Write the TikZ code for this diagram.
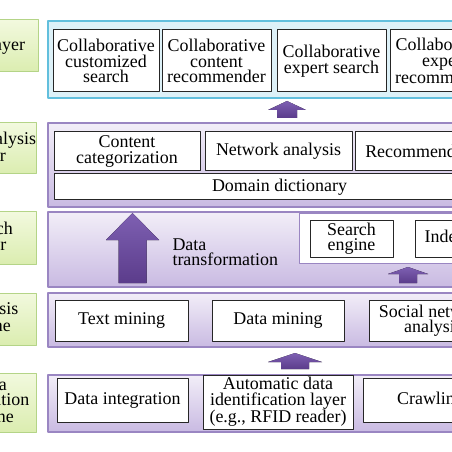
\documentclass[tikz,border=0pt]{standalone}
\usepackage{fontspec}
\setmainfont{Liberation Serif}
\definecolor{cyanFill}{HTML}{DDF1F8}
\definecolor{cyanLine}{HTML}{62BFDD}
\definecolor{lavTop}{HTML}{F2EEF8}
\definecolor{lavBot}{HTML}{C9BAE2}
\definecolor{lavLine}{HTML}{9A86C2}
\definecolor{grnTop}{HTML}{F2F9DE}
\definecolor{grnBot}{HTML}{DBEDB0}
\definecolor{grnLine}{HTML}{B4D487}
\definecolor{arrTop}{HTML}{7E60B2}
\definecolor{arrBot}{HTML}{5B3C8B}
\begin{document}
\begin{tikzpicture}[x=1bp, y=-1bp, font=\fontsize{18}{15.5}\selectfont, line join=round,
  spans/.style args={#1:#2:#3:#4}{minimum width={(#3-#1)*1bp}, minimum height={(#4-#2)*1bp},
    at={({(#1+#3)/2},{(#2+#4)/2})}},
  tagbox/.style={draw=grnLine, line width=1bp, top color=grnTop, bottom color=grnBot, inner sep=0pt, align=center},
  panel/.style={draw=lavLine, line width=1.2bp, top color=lavTop, bottom color=lavBot, inner sep=0pt},
  inbox/.style={draw=black!85, line width=1bp, fill=white, inner sep=0pt, align=center},
  blockarrow/.style={top color=arrTop, bottom color=arrBot, draw=none}]
  \useasboundingbox (0,0) rectangle (452,452);
  \clip (0,0) rectangle (452,452);
  % layer tags on the left
  \node[tagbox, spans=-113:20:38:72] (tagapp) {Application layer};
  \node[tagbox, spans=-60:123:36:174] (tagana) {Data analysis\\layer};
  \node[tagbox, spans=-59:212:36:264] (tagsrch) {Search\\layer};
  \node[tagbox, spans=-62:293:36:345] (tageng) {Analysis\\engine};
  \node[tagbox, spans=-56:373:36:432] (tagacq) {Data\\acquisition\\engine};
  % application layer
  \node[draw=cyanLine, line width=1.2bp, fill=cyanFill, inner sep=0pt, spans=48:21:470:98] (appl) {};
  \node[inbox, spans=53:30:159:92] (custsrch) {Collaborative\\customized\\search};
  \node[inbox, spans=162:30:271:92] (contrec) {Collaborative\\content\\recommender};
  \node[inbox, spans=277:30:386:92] (expsrch) {Collaborative\\expert search};
  \node[inbox, spans=390:30:499:92] (exprec) {Collaborative\\expert\\recommender};
  % analysis layer
  \node[panel, spans=48:123:470:207] (anal) {};
  \node[inbox, spans=54:132:200:171] (contcat) {Content\\categorization};
  \node[inbox, spans=205:132:352:171] (netana) {Network analysis};
  \node[inbox, spans=355:132:502:171] (recomm) {Recommendation};
  \node[inbox, spans=54:174:505:200] (domdict) {Domain dictionary};
  % search layer
  \node[panel, spans=48:212:470:287] (srch) {};
  \node[draw=lavLine, line width=0.6bp, fill=white, inner sep=0pt, spans=299:213.5:470:263] (srchbg) {};
  \node[inbox, spans=310:220:393:257] (srcheng) {Search\\engine};
  \node[inbox, spans=415:220:498:257] (idx) {Indexing};
  \node[anchor=west, align=left] (dtrans) at (169,252) {Data\\transformation};
  % analysis engine
  \node[panel, spans=48:293:470:347] (engn) {};
  \node[inbox, spans=55:300:188:341] (txtmin) {Text mining};
  \node[inbox, spans=212:300:344:341] (datmin) {Data mining};
  \node[inbox, spans=369:300:497:341] (socnet) {Social network\\analysis};
  % data acquisition engine
  \node[panel, spans=48:375:470:432] (acq) {};
  \node[inbox, spans=57:378:188:422] (datint) {Data integration};
  \node[inbox, spans=203:375:353:429] (autoid) {Automatic data\\identification layer\\(e.g., RFID reader)};
  \node[inbox, spans=363:378:498:422] (crawl) {Crawling};
  % block arrows: centre/tip/head base/bottom/head half width/shaft half width
  \foreach \cx/\tp/\hb/\bt/\hw/\sw in {287/101/110/118/19/10, 132.5/213/240/283/26.5/14,
      408/267/274/283/20/9, 295/353/362/369/27/14}
    \fill[blockarrow] (\cx,\tp) -- (\cx+\hw,\hb) -- (\cx+\sw,\hb) -- (\cx+\sw,\bt)
      -- (\cx-\sw,\bt) -- (\cx-\sw,\hb) -- (\cx-\hw,\hb) -- cycle;
\end{tikzpicture}
\end{document}
